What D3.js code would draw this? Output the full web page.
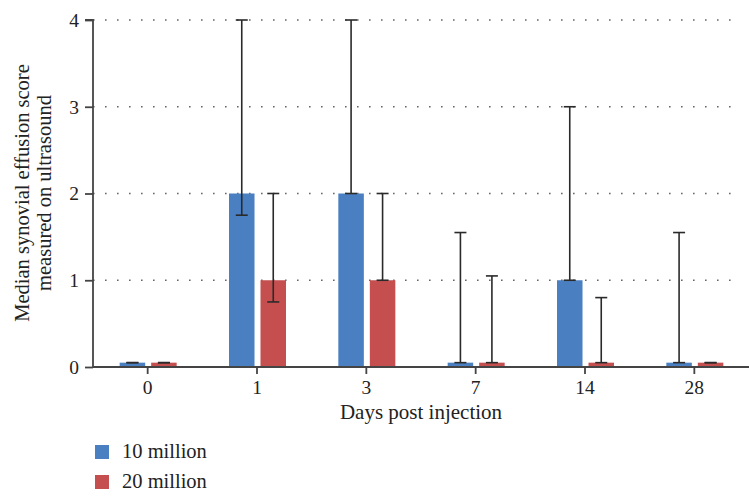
<!DOCTYPE html>
<html>
<head>
<meta charset="utf-8">
<script src="https://cdn.jsdelivr.net/npm/d3@7"></script>
<style>
  body { margin: 0; background: #fff; }
  svg { font-family: "Liberation Serif", "DejaVu Serif", serif; }
</style>
</head>
<body>
<svg id="chart" width="749" height="496"></svg>
<script>
const days = ["0", "1", "3", "7", "14", "28"];
const seriesNames = ["10 million", "20 million"];
const seriesColors = ["#4a7fc1", "#c44f4e"];

// medians (zero medians drawn as a thin stub, as in the figure)
const median10 = [0.05, 2, 2, 0.05, 1, 0.05];
const median20 = [0.05, 1, 1, 0.05, 0.05, 0.05];
// range whiskers
const upper10 = [0.05, 4, 4, 1.55, 3, 1.55];
const lower10 = [0.05, 1.75, 2, 0.05, 1, 0.05];
const upper20 = [0.05, 2, 2, 1.05, 0.8, 0.05];
const lower20 = [0.05, 0.75, 1, 0.05, 0.05, 0.05];
const yTicks = [0, 1, 2, 3, 4];

const svg = d3.select("#chart");
const margin = { top: 20, right: 0, bottom: 129, left: 93 };
const width = +svg.attr("width") - margin.left - margin.right;
const height = +svg.attr("height") - margin.top - margin.bottom;

const g = svg.append("g").attr("transform", `translate(${margin.left},${margin.top})`);

const x = d3.scaleBand().domain(days).range([0, width]);
const xSub = d3.scaleBand().domain([0, 1]).range([-28, 29]).paddingInner(0.19);
const y = d3.scaleLinear().domain([0, 4]).range([height, 0]);

// dotted gridlines
g.append("g")
    .selectAll("line")
    .data(yTicks.filter(d => d > 0))
    .enter().append("line")
    .attr("x1", 0)
    .attr("x2", width - 8)
    .attr("y1", d => y(d))
    .attr("y2", d => y(d))
    .attr("stroke", "#666")
    .attr("stroke-width", 1.6)
    .attr("stroke-dasharray", "1.6,10.4");

const series = [
    { med: median10, up: upper10, lo: lower10 },
    { med: median20, up: upper20, lo: lower20 }
];

series.forEach((s, i) => {
    const grp = g.append("g");
    const rows = days.map((d, j) => ({ day: d, med: s.med[j], up: s.up[j], lo: s.lo[j] }));

    grp.selectAll("rect")
        .data(rows)
        .enter().append("rect")
        .attr("x", d => x(d.day) + x.bandwidth() / 2 + xSub(i))
        .attr("width", xSub.bandwidth())
        .attr("y", d => y(d.med))
        .attr("height", d => y(0) - y(d.med))
        .attr("fill", seriesColors[i]);

    const cx = d => x(d.day) + x.bandwidth() / 2 + xSub(i) + xSub.bandwidth() / 2;

    const eb = grp.selectAll(".err")
        .data(rows)
        .enter().append("g")
        .attr("class", "err")
        .attr("stroke", "#2a2a2a")
        .attr("stroke-width", 1.6);

    eb.filter(d => d.up > d.lo).append("line")
        .attr("x1", cx).attr("x2", cx)
        .attr("y1", d => y(d.up)).attr("y2", d => y(d.lo));
    eb.append("line")
        .attr("x1", d => cx(d) - 6).attr("x2", d => cx(d) + 6)
        .attr("y1", d => y(d.up)).attr("y2", d => y(d.up));
    eb.append("line")
        .attr("x1", d => cx(d) - 6).attr("x2", d => cx(d) + 6)
        .attr("y1", d => y(d.lo)).attr("y2", d => y(d.lo));
});

// axes
const yAxis = g.append("g")
    .call(d3.axisLeft(y).tickValues(yTicks).tickFormat(d3.format("d")).tickSize(8).tickPadding(6));
const xAxis = g.append("g")
    .attr("transform", `translate(0,${height})`)
    .call(d3.axisBottom(x).tickSize(7).tickPadding(6));

[yAxis, xAxis].forEach(a => {
    a.select(".domain").attr("stroke", "#444").attr("stroke-width", 1.8);
    a.selectAll(".tick line").attr("stroke", "#444").attr("stroke-width", 1.8);
    a.selectAll("text").attr("fill", "#222").style("font-size", "19.5px")
        .style("font-family", "Liberation Serif, serif");
});
yAxis.select(".domain").attr("d", `M-8,0H0V${height}`);
xAxis.select(".domain").attr("d", `M0,0H${width}`);

// axis titles
svg.append("text")
    .attr("x", 421).attr("y", 419)
    .attr("text-anchor", "middle")
    .attr("fill", "#222")
    .style("font-size", "21px")
    .text("Days post injection");

const yTitle = svg.append("text")
    .attr("transform", "translate(0,193) rotate(-90)")
    .attr("text-anchor", "middle")
    .attr("fill", "#222")
    .style("font-size", "20.5px");
yTitle.append("tspan").attr("x", 0).attr("y", 29).text("Median synovial effusion score");
yTitle.append("tspan").attr("x", 0).attr("y", 51).text("measured on ultrasound");

// legend
const legend = svg.append("g").attr("transform", "translate(95,445)");
seriesNames.forEach((name, i) => {
    const row = legend.append("g").attr("transform", `translate(0,${i * 30})`);
    row.append("rect").attr("width", 14).attr("height", 14).attr("fill", seriesColors[i]);
    row.append("text")
        .attr("x", 27).attr("y", 13)
        .attr("fill", "#222")
        .style("font-size", "20.5px")
        .text(name);
});
</script>
</body>
</html>
